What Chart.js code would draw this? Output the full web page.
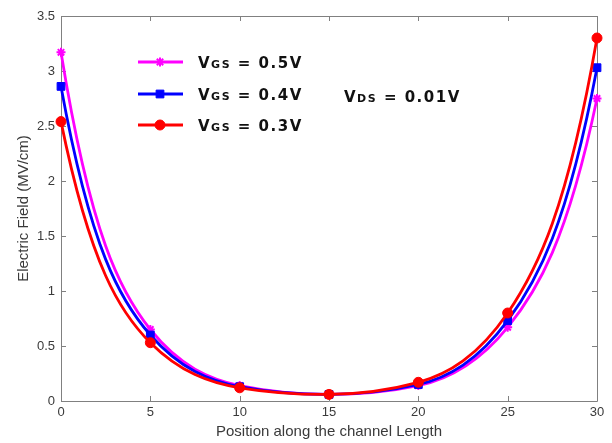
<!DOCTYPE html>
<html>
<head>
<meta charset="utf-8">
<script src="https://cdn.jsdelivr.net/npm/chart.js@4"></script>
<style>
  html, body { margin: 0; padding: 0; background: #fff; }
  #wrap { width: 612px; height: 443px; }
</style>
</head>
<body>
<div id="wrap"><canvas id="fieldChart"></canvas></div>
<script>
// Electric field along the channel, one series per gate voltage
const positions = [0, 5, 10, 15, 20, 25, 30];
const vgs05 = [3.17, 0.65, 0.14, 0.06, 0.14, 0.67, 2.75];
const vgs04 = [2.86, 0.60, 0.13, 0.06, 0.15, 0.73, 3.03];
const vgs03 = [2.54, 0.53, 0.12, 0.06, 0.17, 0.80, 3.30];
const seriesLabels = ['VGS = 0.5V', 'VGS = 0.4V', 'VGS = 0.3V'];
const xTicks = [0, 5, 10, 15, 20, 25, 30];
const yTicks = [0, 0.5, 1, 1.5, 2, 2.5, 3, 3.5];
const noteText = 'VDS = 0.01V';

const AXIS_GRAY = '#808080';
const TEXT_GRAY = '#3a3a3a';
const LINE_W = 2.8;

function toPoints(ys) {
  return positions.map((x, i) => ({ x: x, y: ys[i] }));
}

// smooth the curve with tangents taken from the exponential shape between markers
const expTangents = {
  id: 'expTangents',
  beforeDatasetsDraw(chart) {
    const xs = chart.scales.x, ys = chart.scales.y;
    chart.data.datasets.forEach((ds, di) => {
      const meta = chart.getDatasetMeta(di);
      if (!meta.dataset) return;
      meta.dataset.updateControlPoints(chart.chartArea, 'x');
      const pts = ds.data;
      const n = pts.length;
      const slope = [];
      for (let i = 0; i < n; i++) {
        const s = [];
        if (i > 0) s.push(pts[i].y * Math.log(pts[i].y / pts[i - 1].y) / (pts[i].x - pts[i - 1].x));
        if (i < n - 1) s.push(pts[i].y * Math.log(pts[i + 1].y / pts[i].y) / (pts[i + 1].x - pts[i].x));
        slope.push(s.reduce((a, b) => a + b, 0) / s.length);
      }
      meta.data.forEach((el, i) => {
        if (i > 0) {
          const h = (pts[i].x - pts[i - 1].x) / 3;
          el.cp1x = xs.getPixelForValue(pts[i].x - h);
          el.cp1y = ys.getPixelForValue(pts[i].y - slope[i] * h);
        }
        if (i < n - 1) {
          const h = (pts[i + 1].x - pts[i].x) / 3;
          el.cp2x = xs.getPixelForValue(pts[i].x + h);
          el.cp2y = ys.getPixelForValue(pts[i].y + slope[i] * h);
        }
      });
    });
  }
};

// box around the plot with inward ticks on all four sides
const frameAndTicks = {
  id: 'frameAndTicks',
  beforeDatasetsDraw(chart) {
    const { ctx, chartArea: a } = chart;
    const xs = chart.scales.x, ys = chart.scales.y;
    ctx.save();
    ctx.strokeStyle = AXIS_GRAY;
    ctx.lineWidth = 1;
    ctx.beginPath();
    ctx.rect(Math.round(a.left) + 0.5, Math.round(a.top) + 0.5,
      Math.round(a.right - a.left), Math.round(a.bottom - a.top));
    xTicks.forEach(v => {
      const px = Math.round(xs.getPixelForValue(v)) + 0.5;
      ctx.moveTo(px, a.bottom); ctx.lineTo(px, a.bottom - 5);
      ctx.moveTo(px, a.top); ctx.lineTo(px, a.top + 5);
    });
    yTicks.forEach(v => {
      const py = Math.round(ys.getPixelForValue(v)) + 0.5;
      ctx.moveTo(a.left, py); ctx.lineTo(a.left + 5, py);
      ctx.moveTo(a.right, py); ctx.lineTo(a.right - 5, py);
    });
    ctx.stroke();
    ctx.restore();
  }
};

// "VGS" style label: big V, small-caps subscript letters, rest big
function drawSubLabel(ctx, text, x, y) {
  const head = text.charAt(0);
  const sub = text.slice(1, 3);
  const tail = text.slice(3);
  ctx.save();
  ctx.fillStyle = '#111';
  ctx.textBaseline = 'alphabetic';
  ctx.textAlign = 'left';
  ctx.letterSpacing = '1.5px';
  ctx.font = 'bold 15px "DejaVu Sans"';
  ctx.fillText(head, x, y);
  x += ctx.measureText(head).width;
  ctx.font = 'bold 11px "DejaVu Sans"';
  ctx.fillText(sub, x, y);
  x += ctx.measureText(sub).width;
  ctx.font = 'bold 15px "DejaVu Sans"';
  ctx.fillText(tail, x, y);
  ctx.restore();
}

const insideLegend = {
  id: 'insideLegend',
  afterDraw(chart) {
    const ctx = chart.ctx;
    const rowY = [62, 94, 125];
    chart.data.datasets.forEach((ds, i) => {
      const y = rowY[i];
      ctx.save();
      ctx.strokeStyle = ds.borderColor;
      ctx.lineWidth = LINE_W;
      ctx.beginPath();
      ctx.moveTo(138, y);
      ctx.lineTo(183, y);
      ctx.stroke();
      ctx.fillStyle = ds.backgroundColor;
      ctx.lineWidth = ds.pointBorderWidth;
      Chart.helpers.drawPoint(ctx, {
        pointStyle: ds.pointStyle,
        radius: ds.pointRadius,
        borderWidth: ds.pointBorderWidth
      }, 160, y);
      ctx.restore();
      drawSubLabel(ctx, ds.label, 198, y + 6);
    });
    drawSubLabel(ctx, noteText, 344, 102);
  }
};

const ctx = document.getElementById('fieldChart');
new Chart(ctx, {
  type: 'line',
  data: {
    datasets: [
      {
        label: seriesLabels[0],
        data: toPoints(vgs05),
        borderColor: '#ff00ff',
        backgroundColor: '#ff00ff',
        pointStyle: 'star',
        pointRadius: 4.5,
        pointBorderWidth: 2,
        order: 3
      },
      {
        label: seriesLabels[1],
        data: toPoints(vgs04),
        borderColor: '#0000ff',
        backgroundColor: '#0000ff',
        pointStyle: 'rect',
        pointRadius: 5.5,
        pointBorderWidth: 1,
        order: 2
      },
      {
        label: seriesLabels[2],
        data: toPoints(vgs03),
        borderColor: '#ff0000',
        backgroundColor: '#ff0000',
        pointStyle: 'circle',
        pointRadius: 5,
        pointBorderWidth: 1,
        order: 1
      }
    ]
  },
  options: {
    responsive: true,
    maintainAspectRatio: false,
    animation: false,
    devicePixelRatio: 1,
    datasets: {
      line: {
        borderWidth: LINE_W,
        tension: 0.3,
        clip: false
      }
    },
    layout: { padding: { top: 16, right: 15, left: 0, bottom: 0 } },
    plugins: {
      legend: { display: false },
      tooltip: { enabled: false }
    },
    scales: {
      x: {
        type: 'linear',
        min: 0,
        max: 30,
        afterBuildTicks: (scale) => { scale.ticks = xTicks.map(v => ({ value: v })); },
        afterFit: (scale) => { scale.height = 42; },
        grid: { display: false, drawTicks: false },
        border: { display: false },
        ticks: {
          padding: 4,
          color: TEXT_GRAY,
          font: { family: '"Liberation Sans", Arial', size: 13 },
          callback: (v) => String(v)
        },
        title: {
          display: true,
          text: 'Position along the channel Length',
          color: TEXT_GRAY,
          font: { family: '"Liberation Sans", Arial', size: 15 },
          padding: { top: 0, bottom: 2 }
        }
      },
      y: {
        type: 'linear',
        min: 0,
        max: 3.5,
        afterBuildTicks: (scale) => { scale.ticks = yTicks.map(v => ({ value: v })); },
        afterFit: (scale) => { scale.width = 61; },
        grid: { display: false, drawTicks: false },
        border: { display: false },
        ticks: {
          padding: 6,
          color: TEXT_GRAY,
          font: { family: '"Liberation Sans", Arial', size: 13 },
          callback: (v) => String(v)
        },
        title: {
          display: true,
          text: 'Electric Field (MV/cm)',
          color: TEXT_GRAY,
          font: { family: '"Liberation Sans", Arial', size: 15 },
          padding: { top: 15, bottom: 0 }
        }
      }
    }
  },
  plugins: [expTangents, frameAndTicks, insideLegend]
});
</script>
</body>
</html>
